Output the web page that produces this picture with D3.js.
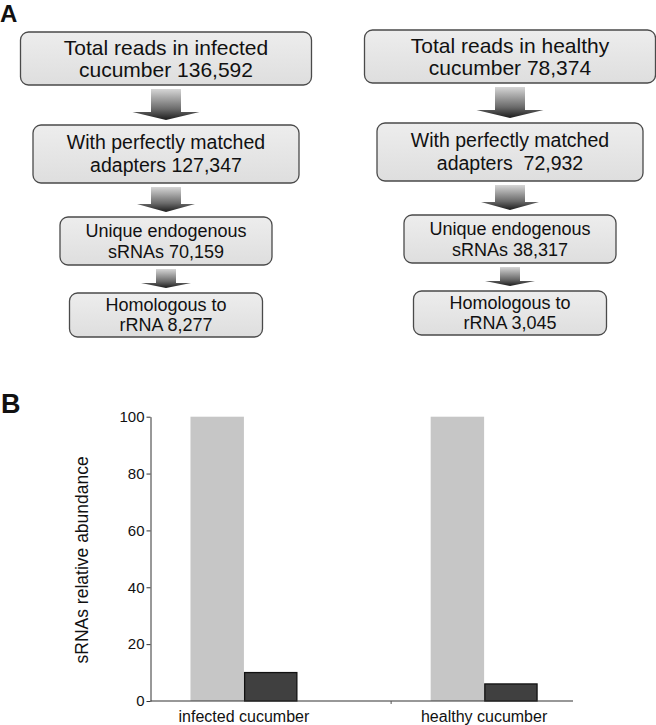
<!DOCTYPE html>
<html>
<head>
<meta charset="utf-8">
<script src="https://cdn.jsdelivr.net/npm/d3@7"></script>
<style>
  html, body { margin: 0; padding: 0; background: #fff; }
  svg { display: block; font-family: "Liberation Sans", Arial, sans-serif; }
</style>
</head>
<body>
<script>
// ---------- DATA ----------
const samples = ["infected", "healthy"];
const stepLine1 = ["Total reads in", "With perfectly matched", "Unique endogenous", "Homologous to"];
const stepLine2 = ["cucumber", "adapters", "sRNAs", "rRNA"];
const infectedCounts = [136592, 127347, 70159, 8277];
const healthyCounts = [78374, 72932, 38317, 3045];

const categories = ["infected cucumber", "healthy cucumber"];
const totalSeries = [100, 100];      // light grey bars
const rrnaSeries = [10, 6];          // dark bars
const yTicks = [0, 20, 40, 60, 80, 100];
const yLabel = "sRNAs relative abundance";

// ---------- SETUP ----------
const W = 656, H = 725;
const svg = d3.select("body").append("svg").attr("width", W).attr("height", H);
const defs = svg.append("defs");

const boxGrad = defs.append("linearGradient").attr("id", "boxGrad")
  .attr("x1", 0).attr("y1", 0).attr("x2", 0).attr("y2", 1);
boxGrad.append("stop").attr("offset", "0%").attr("stop-color", "#ededed");
boxGrad.append("stop").attr("offset", "100%").attr("stop-color", "#dedede");

const arrowGrad = defs.append("linearGradient").attr("id", "arrowGrad")
  .attr("x1", 0).attr("y1", 0).attr("x2", 0).attr("y2", 1);
arrowGrad.append("stop").attr("offset", "0%").attr("stop-color", "#d6d6d6");
arrowGrad.append("stop").attr("offset", "65%").attr("stop-color", "#6a6a6a");
arrowGrad.append("stop").attr("offset", "100%").attr("stop-color", "#1c1c1c");

// ---------- PANEL A : flow diagram ----------
svg.append("text").attr("x", 0).attr("y", 22)
  .attr("font-size", 24).attr("font-weight", "bold").attr("fill", "#111").text("A");

const fmt = d3.format(",");
const colCenter = d3.scaleOrdinal().domain(samples).range([166, 510]);
const colShift = d3.scaleOrdinal().domain(samples).range([0, -2]);
const boxW = [291, 266, 212, 193];
const boxTop = [32, 125, 217, 293];
const boxH = [53, 58, 48, 44];
const fontSz = [21, 19.5, 18, 18];
const lineH = [22, 23, 21, 20];
const shaftW = [30, 30, 20];
const headW = [67, 58, 50];
const headH = [8, 8, 5];

const countsBySample = { infected: infectedCounts, healthy: healthyCounts };

samples.forEach(s => {
  const cx = colCenter(s), dy = colShift(s);
  const counts = countsBySample[s];
  const g = svg.append("g");
  counts.forEach((c, i) => {
    const x = cx - boxW[i] / 2, y = boxTop[i] + dy;
    g.append("rect").attr("x", x).attr("y", y).attr("width", boxW[i]).attr("height", boxH[i])
      .attr("rx", 8).attr("ry", 8)
      .attr("fill", "url(#boxGrad)").attr("stroke", "#4a4a4a").attr("stroke-width", 1.3);
    const l1 = i === 0 ? stepLine1[i] + " " + s : stepLine1[i];
    const sep = (s === "healthy" && i === 1) ? "  " : " ";
    const l2 = stepLine2[i] + sep + fmt(c);
    const cy = y + boxH[i] / 2;
    [l1, l2].forEach((t, k) => {
      g.append("text").attr("x", cx).attr("y", cy + (k - 0.5) * lineH[i] + 0.35 * fontSz[i])
        .attr("text-anchor", "middle").attr("font-size", fontSz[i]).attr("fill", "#111")
        .style("white-space", "pre").text(t);
    });
    if (i < counts.length - 1) {
      const top = y + boxH[i] + 4;
      const bot = boxTop[i + 1] + dy - 5;
      const hb = bot - headH[i];
      const p = d3.path();
      p.moveTo(cx - shaftW[i] / 2, top);
      p.lineTo(cx + shaftW[i] / 2, top);
      p.lineTo(cx + shaftW[i] / 2, hb);
      p.lineTo(cx + headW[i] / 2, hb);
      p.lineTo(cx, bot);
      p.lineTo(cx - headW[i] / 2, hb);
      p.lineTo(cx - shaftW[i] / 2, hb);
      p.closePath();
      g.append("path").attr("d", p.toString()).attr("fill", "url(#arrowGrad)");
    }
  });
});

// ---------- PANEL B : bar chart ----------
svg.append("text").attr("x", 1).attr("y", 413)
  .attr("font-size", 27).attr("font-weight", "bold").attr("fill", "#111").text("B");

const xL = 150.5, xR = 573, yTop = 416.7, yBot = 701;
const y = d3.scaleLinear().domain([0, 100]).range([yBot, yTop]);
const x = d3.scaleBand().domain(categories).range([xL, xR])
  .paddingInner(0.555).paddingOuter(0.157).align(0.53);
const series = ["total", "rrna"];
const xi = d3.scaleBand().domain(series).range([0, x.bandwidth()]).padding(0);
const barFill = d3.scaleOrdinal().domain(series).range(["#c6c6c6", "#404040"]);
const barStroke = d3.scaleOrdinal().domain(series).range(["none", "#111"]);

const rows = categories.map((c, i) => ({ cat: c, vals: [
  { key: "total", v: totalSeries[i] }, { key: "rrna", v: rrnaSeries[i] } ] }));

const bars = svg.append("g");
rows.forEach(r => {
  r.vals.forEach(d => {
    bars.append("rect")
      .attr("x", x(r.cat) + xi(d.key) + (d.key === "rrna" ? 0.7 : 0))
      .attr("y", y(d.v))
      .attr("width", xi.bandwidth() - (d.key === "rrna" ? 1.2 : 0))
      .attr("height", y(0) - y(d.v))
      .attr("fill", barFill(d.key))
      .attr("stroke", barStroke(d.key))
      .attr("stroke-width", 1.3);
  });
});

// y axis
const yAxis = d3.axisLeft(y).tickValues(yTicks).tickSize(4).tickPadding(2).tickSizeOuter(0);
const gy = svg.append("g").attr("transform", `translate(${xL},0)`).call(yAxis);
gy.select(".domain").attr("stroke", "#333");
gy.selectAll(".tick line").attr("stroke", "#333");
gy.selectAll(".tick text").attr("font-size", 15).attr("fill", "#111")
  .attr("font-family", "'Liberation Sans', Arial, sans-serif");

// x axis line
svg.append("line").attr("x1", xL).attr("x2", xR).attr("y1", yBot).attr("y2", yBot)
  .attr("stroke", "#333").attr("stroke-width", 1.2);
// minor tick between categories
const tickX = x(categories[1]) - x.bandwidth() * 0.37;
svg.append("line").attr("x1", tickX).attr("x2", tickX).attr("y1", yBot).attr("y2", yBot + 3)
  .attr("stroke", "#555");

// category labels
svg.append("g").selectAll("text").data(categories).join("text")
  .attr("x", d => x(d) + x.bandwidth() / 2)
  .attr("y", 722)
  .attr("text-anchor", "middle").attr("font-size", 16).attr("fill", "#111")
  .text(d => d);

// y label
svg.append("text")
  .attr("transform", `translate(88,${(yTop + yBot) / 2 + 1}) rotate(-90)`)
  .attr("text-anchor", "middle").attr("font-size", 17.5).attr("fill", "#111")
  .text(yLabel);
</script>
</body>
</html>
